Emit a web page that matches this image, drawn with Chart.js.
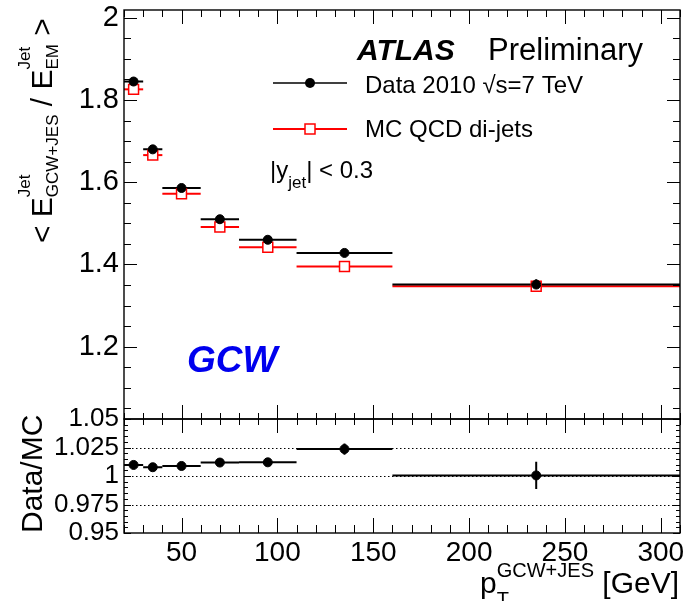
<!DOCTYPE html>
<html>
<head>
<meta charset="utf-8">
<script src="https://cdn.jsdelivr.net/npm/chart.js@4.4.1/dist/chart.umd.min.js"></script>
<style>
  body { margin: 0; background: #fff; }
  #wrap { position: relative; width: 685px; height: 601px; overflow: hidden; }
  canvas { position: absolute; left: 0; }
  #top { top: 0; }
  #ratio { top: 400px; }
</style>
</head>
<body>
<div id="wrap">
  <canvas id="top" width="685" height="440"></canvas>
  <canvas id="ratio" width="685" height="201"></canvas>
</div>
<script>
// pT bins [GeV]
const binLow = [20, 30, 40, 60, 80, 110, 160];
const binHigh = [30, 40, 60, 80, 110, 160, 310];
const binCenter = [25, 35, 50, 70, 95, 135, 235];

// <E_GCW+JES / E_EM> response
const dataResponse = [1.845, 1.680, 1.586, 1.510, 1.460, 1.428, 1.351];
const dataError = [0.003, 0.003, 0.003, 0.003, 0.003, 0.004, 0.013];
const mcResponse = [1.826, 1.666, 1.572, 1.491, 1.442, 1.395, 1.347];

// Data/MC
const ratioValues = [1.0097, 1.0077, 1.0088, 1.0118, 1.0120, 1.0236, 1.0005];
const ratioError = [0.001, 0.001, 0.001, 0.001, 0.001, 0.005, 0.012];

const xTickLabels = [50, 100, 150, 200, 250, 300];
const responseTicks = [1.2, 1.4, 1.6, 1.8, 2];
const ratioTicks = [0.95, 0.975, 1, 1.025, 1.05];
const ratioRefLines = [0.975, 1, 1.025];

const FONT = '"Liberation Sans", Arial, Helvetica, sans-serif';

// horizontal bin bars, error bars and dotted reference lines
function makeBinMarks(series, refLines) {
  return {
    id: 'binMarks',
    beforeDatasetsDraw(chart) {
      const { ctx, chartArea: a, scales: { x, y } } = chart;
      ctx.save();
      ctx.beginPath();
      ctx.rect(a.left, a.top, a.right - a.left, a.bottom - a.top);
      ctx.clip();
      ctx.strokeStyle = '#000';
      ctx.lineWidth = 1;
      ctx.setLineDash([1.5, 2.5]);
      refLines.forEach(v => {
        const py = Math.round(y.getPixelForValue(v)) + 0.5;
        ctx.beginPath();
        ctx.moveTo(a.left, py);
        ctx.lineTo(a.right, py);
        ctx.stroke();
      });
      ctx.setLineDash([]);
      series.forEach(s => {
        ctx.strokeStyle = s.color;
        ctx.lineWidth = 2;
        s.values.forEach((v, i) => {
          const py = y.getPixelForValue(v);
          ctx.beginPath();
          ctx.moveTo(x.getPixelForValue(binLow[i]), py);
          ctx.lineTo(x.getPixelForValue(binHigh[i]), py);
          if (s.errors) {
            const px = x.getPixelForValue(binCenter[i]);
            ctx.moveTo(px, y.getPixelForValue(v - s.errors[i]));
            ctx.lineTo(px, y.getPixelForValue(v + s.errors[i]));
          }
          ctx.stroke();
        });
      });
      ctx.restore();
    }
  };
}

// ROOT-like frame with inward ticks on all four sides
function makeFrame(t) {
  return {
    id: 'rootFrame',
    afterDraw(chart) {
      const { ctx, chartArea: a, scales: { x, y } } = chart;
      const isMajor = (v, m) => Math.abs(v / m - Math.round(v / m)) < 1e-6;
      ctx.save();
      ctx.strokeStyle = '#000';
      ctx.lineWidth = 1;
      ctx.beginPath();
      for (let k = 0; ; k++) {
        const v = t.xFrom + k * t.xStep;
        if (v > x.max + 1e-9) break;
        const px = Math.round(x.getPixelForValue(v)) + 0.5;
        const m = isMajor(v, t.xMajor) ? 0 : 1;
        ctx.moveTo(px, a.top); ctx.lineTo(px, a.top + t.xTop[m]);
        ctx.moveTo(px, a.bottom); ctx.lineTo(px, a.bottom - t.xBottom[m]);
      }
      for (let k = 0; ; k++) {
        const v = t.yFrom + k * t.yStep;
        if (v > y.max + 1e-9) break;
        const py = Math.round(y.getPixelForValue(v)) + 0.5;
        const m = isMajor(v, t.yMajor) ? 0 : 1;
        ctx.moveTo(a.left, py); ctx.lineTo(a.left + t.yLen[m], py);
        ctx.moveTo(a.right, py); ctx.lineTo(a.right - t.yLen[m], py);
      }
      ctx.stroke();
      ctx.lineWidth = 1.4;
      ctx.strokeRect(a.left, a.top, a.right - a.left, a.bottom - a.top);
      ctx.restore();
    }
  };
}

// text with sub/superscripts: [text, size, dy, style, stay]
function richText(ctx, x, y, parts) {
  let cx = x;
  parts.forEach(p => {
    ctx.font = `${p[3] || ''} ${p[1]}px ${FONT}`;
    ctx.fillText(p[0], cx, y + p[2]);
    if (!p[4]) cx += ctx.measureText(p[0]).width;
  });
  return cx - x;
}

function richWidth(ctx, parts) {
  let w = 0;
  parts.forEach(p => {
    ctx.font = `${p[3] || ''} ${p[1]}px ${FONT}`;
    if (!p[4]) w += ctx.measureText(p[0]).width;
  });
  return w;
}

const topText = {
  id: 'topText',
  afterDraw(chart) {
    const { ctx } = chart;
    ctx.save();
    ctx.fillStyle = '#000';
    ctx.textBaseline = 'alphabetic';
    ctx.textAlign = 'left';

    ctx.font = `italic bold 30px ${FONT}`;
    ctx.fillText('ATLAS', 357, 60);
    ctx.font = `31px ${FONT}`;
    ctx.fillText('Preliminary', 488, 60);

    // legend
    ctx.strokeStyle = '#000';
    ctx.lineWidth = 1.5;
    ctx.beginPath(); ctx.moveTo(273, 83); ctx.lineTo(347, 83); ctx.stroke();
    ctx.beginPath(); ctx.arc(310, 83, 5, 0, Math.PI * 2); ctx.fill();
    ctx.strokeStyle = '#f00';
    ctx.lineWidth = 2;
    ctx.beginPath(); ctx.moveTo(273, 129); ctx.lineTo(347, 129); ctx.stroke();
    ctx.fillStyle = '#fff';
    ctx.fillRect(305, 124, 10, 10);
    ctx.lineWidth = 1.5;
    ctx.strokeRect(305, 124, 10, 10);
    ctx.fillStyle = '#000';
    ctx.font = `24px ${FONT}`;
    ctx.fillText('Data 2010 \u221As=7 TeV', 365, 93);
    ctx.fillText('MC QCD di-jets', 365, 137);

    richText(ctx, 270, 178, [['|y', 24, 0], ['jet', 17, 10], ['| < 0.3', 24, 0]]);

    ctx.fillStyle = '#0000ee';
    ctx.font = `italic bold 37px ${FONT}`;
    ctx.fillText('GCW', 187, 372);

    // y title
    ctx.fillStyle = '#000';
    ctx.translate(52, 243);
    ctx.rotate(-Math.PI / 2);
    richText(ctx, 0, 0, [
      ['< E', 30, 0], ['Jet', 17, -22, '', true], ['GCW+JES', 17, 6],
      [' / E', 30, 0], ['Jet', 17, -22, '', true], ['EM', 17, 6], [' >', 30, 0]
    ]);
    ctx.restore();
  }
};

const ratioText = {
  id: 'ratioText',
  afterDraw(chart) {
    const { ctx } = chart;
    ctx.save();
    ctx.fillStyle = '#000';
    ctx.textBaseline = 'alphabetic';
    ctx.textAlign = 'left';
    const parts = [['p', 30, 0], ['T', 20, 13, '', true], ['GCW+JES', 20, -16], [' [GeV]', 30, 0]];
    const w = richWidth(ctx, parts);
    richText(ctx, 679 - w, 193, parts);

    ctx.translate(42, 133);
    ctx.rotate(-Math.PI / 2);
    ctx.font = `30px ${FONT}`;
    ctx.fillText('Data/MC', 0, 0);
    ctx.restore();
  }
};

const common = {
  responsive: false,
  animation: false,
  events: [],
  devicePixelRatio: 1
};

const noPad = s => { s.paddingLeft = 0; s.paddingRight = 0; s.paddingTop = 0; s.paddingBottom = 0; };

new Chart(document.getElementById('top'), {
  type: 'scatter',
  data: {
    datasets: [
      {
        label: 'Data 2010',
        data: binCenter.map((x, i) => ({ x, y: dataResponse[i] })),
        pointStyle: 'circle', pointRadius: 4.5,
        backgroundColor: '#000', borderColor: '#000', borderWidth: 1
      },
      {
        label: 'MC QCD di-jets',
        data: binCenter.map((x, i) => ({ x, y: mcResponse[i] })),
        pointStyle: 'rect', pointRadius: 7,
        backgroundColor: '#fff', borderColor: '#f00', borderWidth: 1.5
      }
    ]
  },
  options: {
    ...common,
    layout: { autoPadding: false, padding: { top: 10, right: 5, bottom: 21, left: 0 } },
    plugins: { legend: { display: false }, tooltip: { enabled: false } },
    scales: {
      x: { type: 'linear', min: 20, max: 310, display: false },
      y: {
        type: 'linear', min: 1.024, max: 2.019,
        afterFit: s => { s.width = 124; noPad(s); },
        afterBuildTicks: s => { s.ticks = responseTicks.map(v => ({ value: v })); },
        grid: { display: false, drawTicks: false },
        border: { display: false },
        ticks: {
          color: '#000', padding: 5, autoSkip: false,
          font: { family: FONT, size: 29, lineHeight: 1 },
          callback: v => String(v)
        }
      }
    }
  },
  plugins: [
    makeBinMarks([
      { values: mcResponse, color: '#f00' },
      { values: dataResponse, errors: dataError, color: '#000' }
    ], []),
    makeFrame({ xFrom: 20, xStep: 10, xMajor: 50, xTop: [14, 7], xBottom: [14, 6],
                yFrom: 1.05, yStep: 0.05, yMajor: 0.2, yLen: [13, 7] }),
    topText
  ]
});

new Chart(document.getElementById('ratio'), {
  type: 'scatter',
  data: {
    datasets: [{
      label: 'Data/MC',
      data: binCenter.map((x, i) => ({ x, y: ratioValues[i] })),
      pointStyle: 'circle', pointRadius: 4.5,
      backgroundColor: '#000', borderColor: '#000', borderWidth: 1
    }]
  },
  options: {
    ...common,
    layout: { autoPadding: false, padding: { top: 19, right: 5, bottom: 0, left: 0 } },
    plugins: { legend: { display: false }, tooltip: { enabled: false } },
    scales: {
      x: {
        type: 'linear', min: 20, max: 310,
        afterFit: s => { s.height = 68; noPad(s); },
        afterBuildTicks: s => { s.ticks = xTickLabels.map(v => ({ value: v })); },
        grid: { display: false, drawTicks: false },
        border: { display: false },
        ticks: {
          color: '#000', padding: 6, autoSkip: false, maxRotation: 0,
          font: { family: FONT, size: 28, lineHeight: 1 },
          callback: v => String(v)
        }
      },
      y: {
        type: 'linear', min: 0.95, max: 1.05,
        afterFit: s => { s.width = 124; noPad(s); },
        afterBuildTicks: s => { s.ticks = ratioTicks.map(v => ({ value: v })); },
        grid: { display: false, drawTicks: false },
        border: { display: false },
        ticks: {
          color: '#000', padding: 5, autoSkip: false,
          font: { family: FONT, size: 26, lineHeight: 1 },
          callback: v => String(Number(v.toFixed(3)))
        }
      }
    }
  },
  plugins: [
    makeBinMarks([{ values: ratioValues, errors: ratioError, color: '#000' }], ratioRefLines),
    makeFrame({ xFrom: 20, xStep: 10, xMajor: 50, xTop: [14, 6], xBottom: [15, 8],
                yFrom: 0.95, yStep: 0.005, yMajor: 0.025, yLen: [7, 4] }),
    ratioText
  ]
});
</script>
</body>
</html>
